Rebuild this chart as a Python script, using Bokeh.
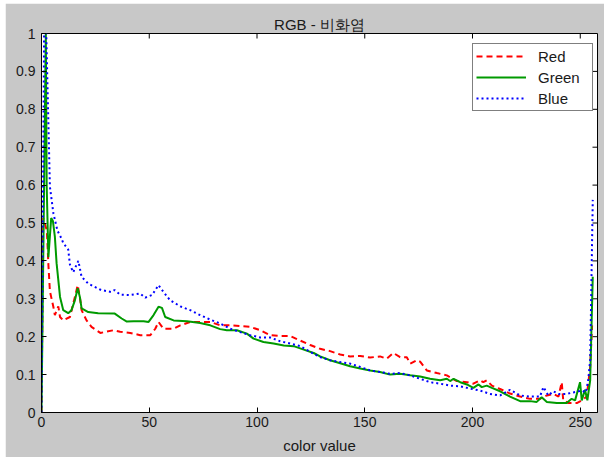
import math
from bokeh.plotting import figure
from bokeh.models import Range1d, FixedTicker, Legend, LegendItem, LinearAxis
from bokeh.embed import file_html
from bokeh.resources import INLINE

title_text = "RGB - 비화염"
x_label = "color value"
series_names = ["Red", "Green", "Blue"]
x_ticks = [0, 50, 100, 150, 200, 250]
y_ticks = [0, 0.1, 0.2, 0.3, 0.4, 0.5, 0.6, 0.7, 0.8, 0.9, 1.0]
x_max = 258

red_x = [0, 0.8, 2.5, 3.2, 3.9, 5.5, 6.2, 7.8, 8.6, 10.1, 13.2, 15.5, 16.8, 17.8, 18.6, 20.9, 23.2,
         27.3, 33.4, 36.5, 41.2, 45.8, 50.5, 52.8, 54.3, 56.6, 61.3, 64.4, 69, 73.6, 78.3, 82.9, 87.6,
         92.2, 96.8, 101.5, 106.1, 110.8, 115.4, 120, 124.7, 129.3, 133.9, 138.6, 143.2, 147.9, 152.5,
         157.1, 160.2, 163.3, 166.4, 169.5, 171.1, 174.2, 175.7, 178.8, 183.5, 188.1, 192.7, 197.4,
         200.4, 203.5, 205, 206.6, 209, 212.8, 217.4, 222.1, 226.7, 231.3, 234.5, 237.5, 239.9, 241.4,
         242.1, 244.5, 248.4, 250.7, 253, 254.6, 255.5]
red_y = [0, 0.513, 0.48, 0.39, 0.32, 0.279, 0.257, 0.28, 0.252, 0.243, 0.252, 0.305, 0.336, 0.305,
         0.27, 0.243, 0.226, 0.21, 0.217, 0.213, 0.21, 0.204, 0.204, 0.221, 0.239, 0.221, 0.221, 0.23,
         0.239, 0.239, 0.239, 0.23, 0.23, 0.228, 0.226, 0.217, 0.204, 0.202, 0.202, 0.19, 0.178, 0.168,
         0.162, 0.153, 0.148, 0.149, 0.145, 0.148, 0.142, 0.157, 0.146, 0.146, 0.129, 0.138, 0.134,
         0.111, 0.104, 0.098, 0.083, 0.08, 0.076, 0.085, 0.08, 0.085, 0.071, 0.062, 0.05, 0.042, 0.036,
         0.036, 0.045, 0.049, 0.042, 0.08, 0.032, 0.025, 0.025, 0.032, 0.042, 0.12, 0.23]

green_x = [0, 2.0, 2.4, 3.2, 4.5, 5.3, 6.2, 7, 8.6, 10.1, 12.4, 13.9, 15.5, 16.8, 17.8, 18.6, 21.7,
           26.3, 34, 37.2, 39.6, 42.7, 47.4, 49.7, 52, 54.3, 55.9, 57.4, 61.3, 67.5, 73.6, 78.3, 82.9,
           86, 90.7, 95.3, 98.4, 103, 107.7, 112.4, 117, 121.7, 126.3, 129.3, 133.9, 138.6, 143.2,
           147.9, 152.5, 157.1, 161.8, 166.4, 171.1, 175.7, 180.3, 185, 188.1, 189.6, 191.2, 194.3,
           197.4, 200.4, 202.8, 204.3, 206.6, 209, 212.8, 217.4, 222.1, 226.7, 229.8, 232.1, 234.5,
           239.1, 243.7, 246, 247.6, 249.9, 250.7, 252.2, 253.3, 254.6, 255.8]
green_y = [0, 1.0, 0.6, 0.41, 0.513, 0.505, 0.464, 0.394, 0.305, 0.27, 0.262, 0.27, 0.296, 0.328,
           0.305, 0.275, 0.265, 0.262, 0.261, 0.248, 0.24, 0.241, 0.241, 0.239, 0.257, 0.279, 0.276,
           0.252, 0.243, 0.241, 0.236, 0.23, 0.22, 0.217, 0.217, 0.208, 0.195, 0.186, 0.182, 0.177,
           0.175, 0.166, 0.157, 0.148, 0.138, 0.13, 0.122, 0.116, 0.111, 0.107, 0.1, 0.102, 0.098,
           0.095, 0.089, 0.085, 0.089, 0.083, 0.089, 0.08, 0.074, 0.065, 0.074, 0.067, 0.071, 0.065,
           0.056, 0.042, 0.03, 0.03, 0.028, 0.04, 0.028, 0.025, 0.025, 0.036, 0.032, 0.08, 0.032,
           0.06, 0.032, 0.085, 0.358]

blue_x = [0, 1.2, 2.2, 3.9, 5.5, 7.4, 9.2, 10.1, 12.4, 13.2, 14.7, 17.1, 18.6, 21.7, 27.7, 32.4,
          33.9, 36.5, 41.2, 45.8, 48.1, 51.3, 54.3, 56.6, 59.7, 64.4, 69, 73.6, 78.3, 82.9, 87.6,
          92.2, 96.8, 101.5, 106.1, 110.8, 115.4, 120, 124.7, 129.3, 133.9, 138.6, 143.2, 147.9,
          152.5, 157.1, 161.8, 166.4, 171.1, 175.7, 180.3, 185, 189.6, 194.3, 198.9, 203.5, 208.1,
          212.8, 217.4, 222.1, 226.7, 231.3, 232.9, 235.2, 237.5, 239.9, 243.7, 246.8, 250.7, 252.6,
          253.7, 254.6, 255.8]
blue_y = [0, 1.0, 1.0, 0.596, 0.526, 0.48, 0.46, 0.447, 0.43, 0.39, 0.37, 0.40, 0.358, 0.34, 0.323,
          0.318, 0.323, 0.311, 0.31, 0.314, 0.303, 0.31, 0.336, 0.318, 0.296, 0.28, 0.27, 0.257,
          0.245, 0.235, 0.221, 0.212, 0.204, 0.198, 0.198, 0.188, 0.182, 0.175, 0.16, 0.146, 0.138,
          0.133, 0.129, 0.12, 0.111, 0.107, 0.102, 0.104, 0.098, 0.089, 0.08, 0.076, 0.071, 0.069,
          0.063, 0.058, 0.049, 0.045, 0.06, 0.045, 0.042, 0.042, 0.067, 0.045, 0.056, 0.049, 0.049,
          0.053, 0.058, 0.053, 0.085, 0.138, 0.561]

FONT = "Liberation Sans"
TXT = "#1a1a1a"

p = figure(width=599, height=454, x_range=Range1d(0, x_max), y_range=Range1d(0, 1),
           output_backend="svg", toolbar_location=None,
           min_border_left=36, min_border_right=7, min_border_top=30, min_border_bottom=45,
           background_fill_color="white", border_fill_color="#c8c8c8",
           outline_line_color="black", outline_line_width=1)
p.margin = (3, 0, 2, 5)
p.grid.visible = False

xa = p.below[0]
ya = p.left[0]

# empty spacer between plot box and title (no ticks, no labels, no line)
spacer = LinearAxis(ticker=FixedTicker(ticks=[], minor_ticks=[]), axis_line_color=None,
                    major_tick_line_color=None, minor_tick_line_color=None,
                    major_tick_in=0, major_tick_out=9, minor_tick_in=0, minor_tick_out=0,
                    major_label_standoff=0)
p.add_layout(spacer, "above")

p.title.text = title_text
p.title.align = "center"
p.title.text_font = FONT
p.title.text_font_size = "15px"
p.title.text_font_style = "normal"
p.title.text_color = TXT
p.title.standoff = 2

def style_axis(ax):
    ax.axis_line_color = "black"
    ax.major_tick_line_color = "black"
    ax.major_tick_in = 5
    ax.major_tick_out = 0
    ax.minor_tick_line_color = None
    ax.major_label_text_font = FONT
    ax.major_label_text_font_size = "14px"
    ax.major_label_text_color = TXT

xa.ticker = FixedTicker(ticks=x_ticks)
style_axis(xa)
xa.major_label_standoff = 4
xa.axis_label = x_label
xa.axis_label_text_font = FONT
xa.axis_label_text_font_size = "15px"
xa.axis_label_text_font_style = "normal"
xa.axis_label_text_color = TXT
xa.axis_label_standoff = 7

ya.ticker = FixedTicker(ticks=y_ticks)
ya.major_label_overrides = {0: "0", 1: "1"}
style_axis(ya)
ya.major_label_standoff = 6

# inward ticks on the top and right edges of the box
p.ray(x=x_ticks, y=[1] * len(x_ticks), length=5, length_units="screen",
      angle=-math.pi / 2, line_color="black", line_width=1)
p.ray(x=[x_max] * len(y_ticks), y=y_ticks, length=5, length_units="screen",
      angle=math.pi, line_color="black", line_width=1)

r_red = p.line(red_x, red_y, line_color="#ff0000", line_width=2, line_dash="6 4")
r_green = p.line(green_x, green_y, line_color="#009a00", line_width=2)
r_blue = p.line(blue_x, blue_y, line_color="#0000ff", line_width=2, line_dash="2 3")

legend = Legend(items=[LegendItem(label=series_names[0], renderers=[r_red]),
                       LegendItem(label=series_names[1], renderers=[r_green]),
                       LegendItem(label=series_names[2], renderers=[r_blue])],
                location=(431, 301))
legend.border_line_color = "black"
legend.border_line_width = 1
legend.background_fill_color = "white"
legend.background_fill_alpha = 1
legend.label_text_font = FONT
legend.label_text_font_size = "15px"
legend.label_text_color = TXT
legend.glyph_width = 50
legend.glyph_height = 18
legend.label_height = 18
legend.label_width = 51
legend.label_standoff = 12
legend.padding = 3
legend.spacing = 3
legend.margin = 0
p.add_layout(legend)

open("out.html", "w").write(file_html(p, INLINE))
